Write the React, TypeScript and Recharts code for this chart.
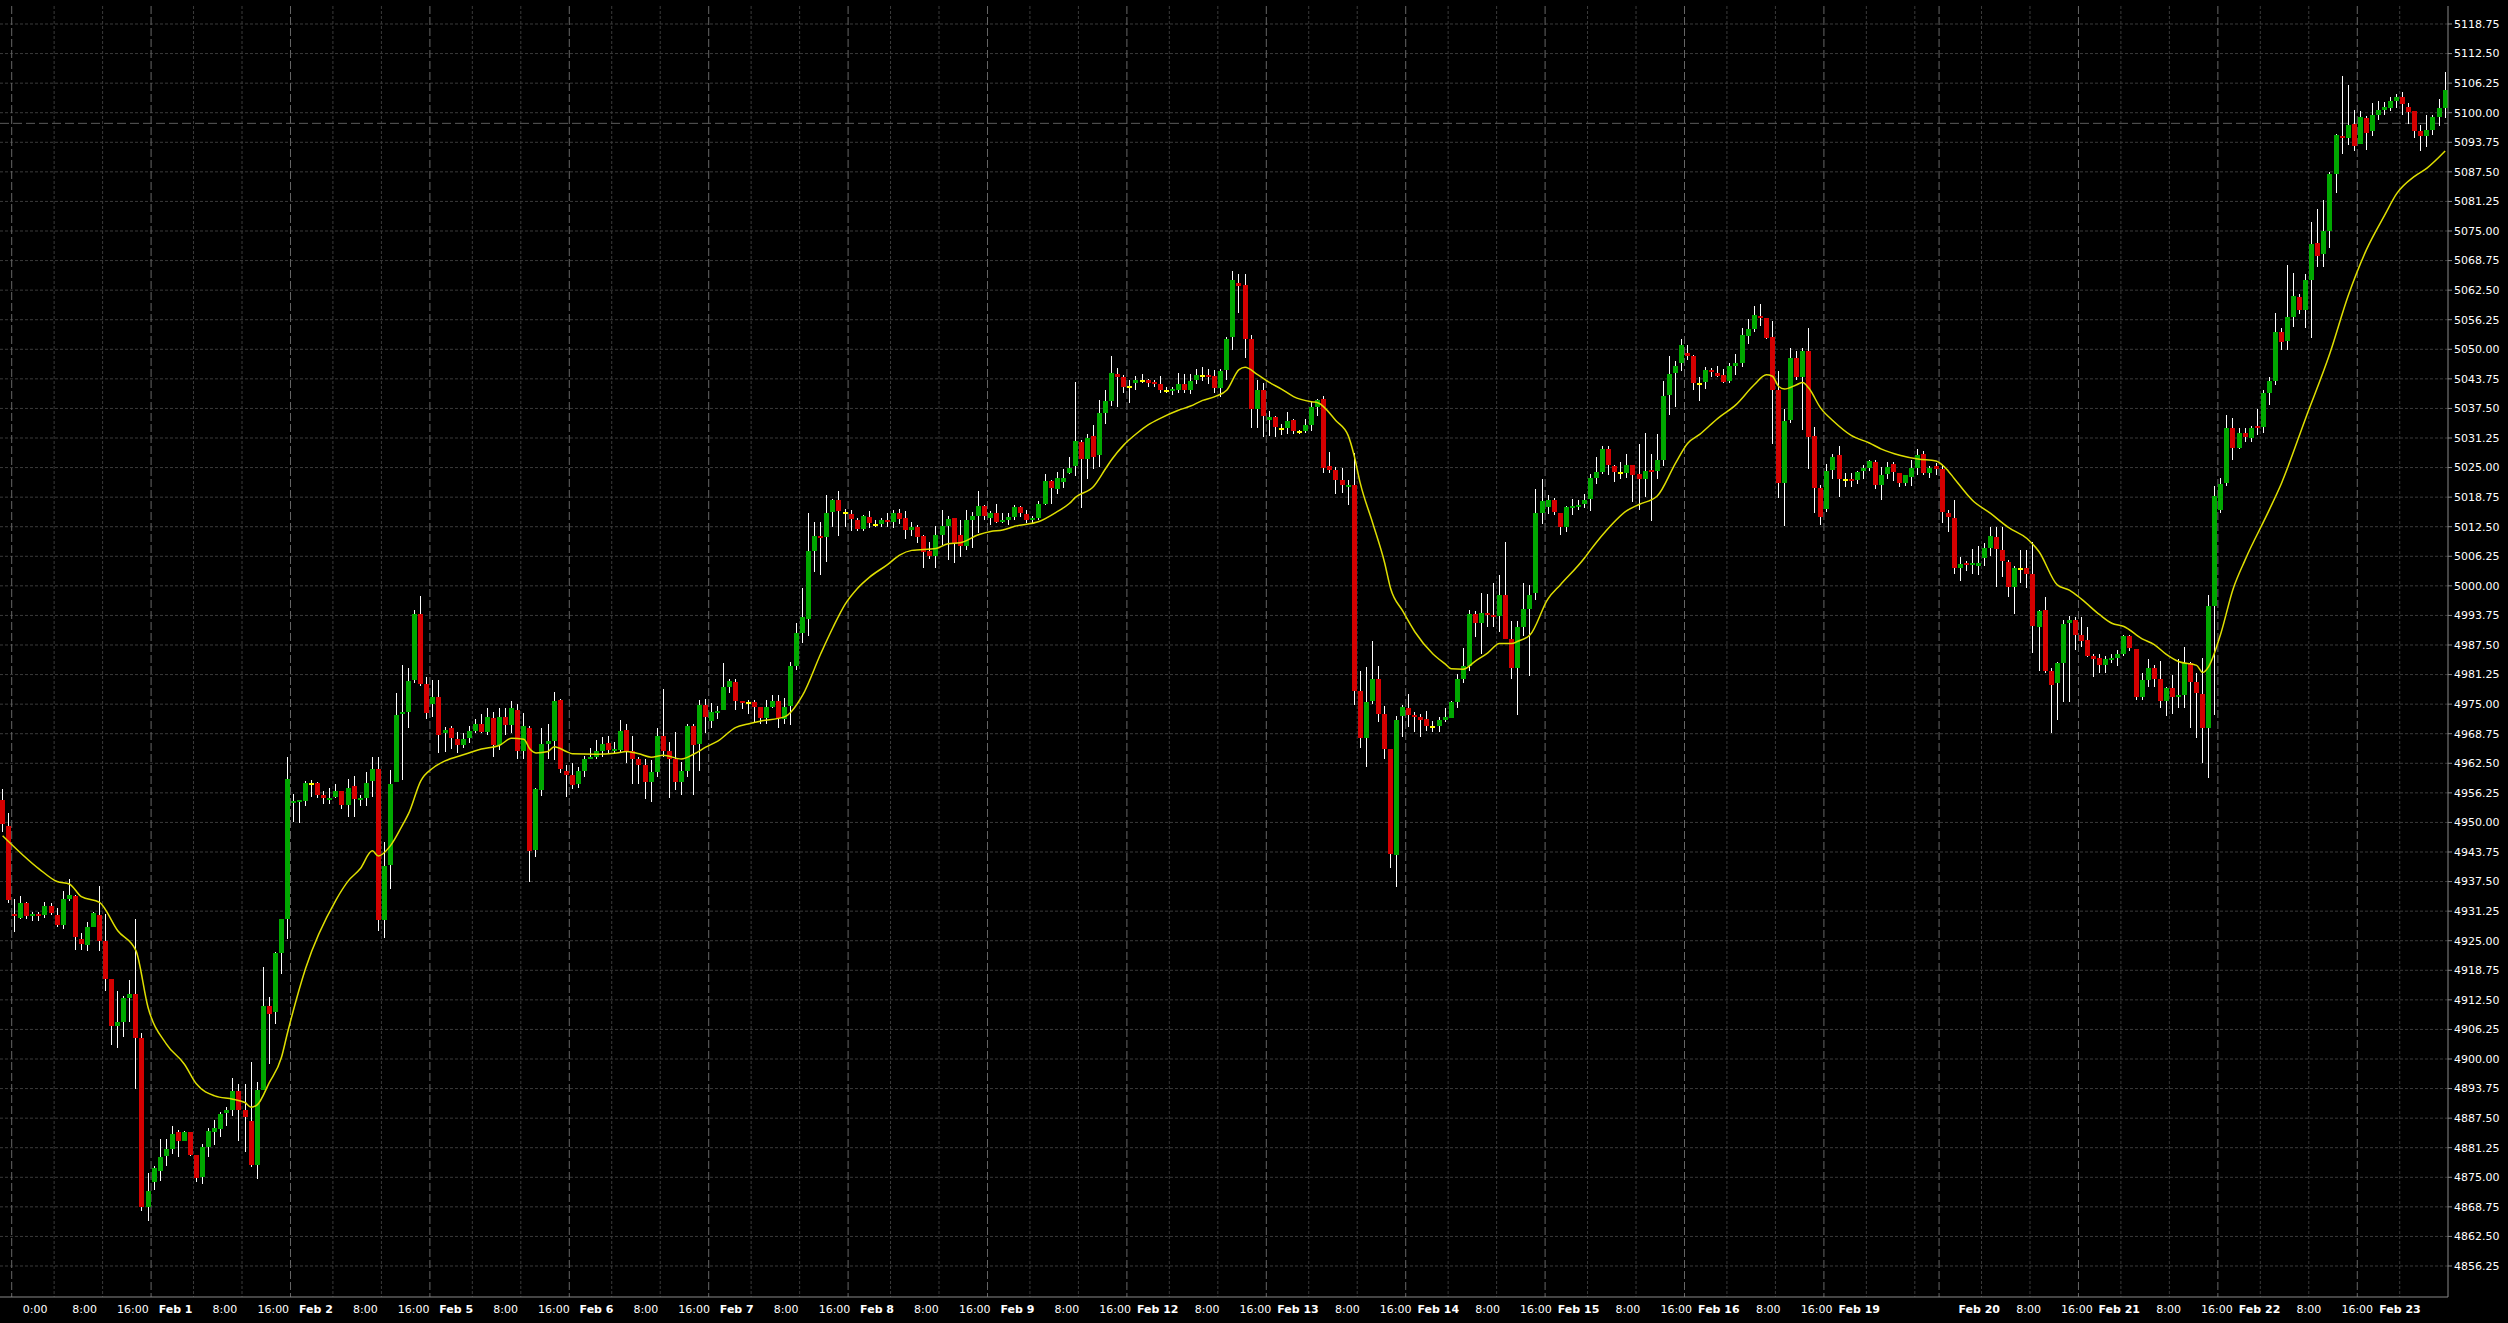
import React from 'react';
import { ComposedChart, Bar, Line, XAxis, YAxis, CartesianGrid } from 'recharts';

// ---- OHLC series (hourly candles, index 0..403) ----
const opens = [
4954.8,4949.3,4930.7,4929.7,4933.0,4930.2,4930.6,4930.4,4932.4,4930.5,
4928.3,4933.9,4934.5,4925.4,4924.0,4927.8,4930.5,4925.0,4917.0,4907.0,
4907.9,4912.9,4913.7,4904.4,4868.8,4874.1,4876.4,4879.6,4880.9,4884.5,
4882.7,4884.5,4879.8,4875.0,4881.3,4884.5,4885.3,4888.5,4889.2,4893.3,
4889.3,4887.0,4877.5,4893.5,4911.1,4909.9,4922.5,4929.5,4954.1,4954.3,
4954.6,4958.1,4958.3,4955.9,4954.9,4955.3,4956.7,4953.6,4957.6,4954.9,
4955.2,4958.7,4961.3,4929.4,4941.0,4958.6,4972.9,4973.4,4980.1,4994.0,
4979.3,4975.0,4976.6,4968.8,4970.0,4967.6,4966.3,4967.8,4969.3,4970.8,
4969.2,4972.0,4966.4,4972.3,4970.6,4973.8,4965.2,4970.0,4944.1,4956.8,
4966.5,4967.2,4975.9,4960.9,4960.0,4958.2,4960.9,4963.4,4963.9,4965.1,
4966.7,4965.1,4965.3,4969.5,4965.0,4963.5,4962.1,4958.6,4960.6,4968.3,
4965.0,4963.3,4958.6,4960.9,4970.4,4966.5,4974.9,4971.4,4973.2,4973.8,
4978.6,4979.6,4975.6,4975.3,4975.5,4974.4,4972.1,4974.4,4975.7,4971.8,
4974.7,4983.1,4990.1,4993.1,5007.4,5010.6,5010.4,5015.7,5018.1,5015.5,
5015.2,5013.9,5012.1,5014.5,5012.9,5013.1,5013.9,5013.6,5015.5,5014.4,
5011.9,5012.5,5010.5,5007.4,5006.4,5010.7,5012.6,5014.4,5010.7,5008.4,
5013.9,5014.8,5016.9,5014.4,5015.5,5013.4,5013.9,5014.6,5016.6,5015.2,
5014.0,5014.4,5017.4,5022.1,5020.4,5022.0,5023.9,5025.3,5030.4,5026.8,
5031.6,5027.6,5036.6,5039.0,5044.8,5044.1,5042.1,5042.8,5043.4,5043.6,
5043.0,5042.6,5041.2,5041.2,5041.4,5042.7,5041.4,5043.5,5044.4,5044.6,
5044.4,5041.9,5045.6,5052.5,5064.1,5063.6,5052.2,5037.4,5041.4,5035.0,
5035.6,5033.1,5033.4,5035.0,5032.5,5032.7,5034.0,5037.9,5039.4,5025.3,
5024.5,5022.4,5021.0,5021.3,4977.8,4967.9,4975.6,4980.4,4973.0,4965.6,
4943.1,4972.5,4974.1,4972.7,4972.3,4971.8,4970.2,4970.3,4971.6,4972.1,
4975.5,4980.3,4983.0,4994.0,4992.2,4994.2,4993.9,4993.7,4998.1,4988.7,
4982.7,4991.3,4995.1,4998.4,5015.4,5016.7,5018.1,5015.4,5012.4,5016.5,
5016.8,5017.2,5018.3,5022.9,5024.1,5029.0,5025.3,5023.9,5023.9,5025.5,
5023.6,5022.6,5024.5,5024.3,5026.6,5040.3,5044.9,5047.0,5049.3,5048.6,
5042.6,5043.1,5045.6,5044.9,5044.5,5043.3,5046.5,5047.0,5052.9,5054.2,
5057.1,5056.7,5052.5,5041.4,5021.8,5035.0,5048.1,5044.2,5049.6,5031.6,
5020.7,5016.2,5024.4,5027.6,5022.4,5022.5,5022.4,5024.2,5024.9,5026.1,
5021.3,5023.6,5025.7,5023.8,5021.8,5023.0,5024.9,5027.8,5023.8,5025.3,
5024.6,5015.5,5014.4,5003.7,5004.9,5004.5,5004.3,5005.8,5008.1,5010.3,
5007.6,5005.1,4999.8,5003.6,5003.7,5002.5,4991.4,4994.9,4982.0,4979.4,
4983.8,4992.2,4992.8,4989.6,4988.5,4985.2,4984.7,4983.3,4984.5,4984.7,
4985.7,4989.4,4986.6,4976.6,4980.1,4982.6,4980.4,4975.6,4978.5,4976.6,
4976.9,4983.8,4979.7,4977.1,4970.0,4995.7,5016.0,5021.8,5033.4,5029.1,
5032.4,5031.2,5033.7,5033.5,5040.8,5043.3,5053.6,5051.8,5056.9,5061.1,
5058.3,5064.6,5072.5,5070.1,5075.0,5087.0,5095.1,5094.7,5097.6,5093.4,
5098.8,5096.2,5099.6,5100.6,5101.1,5102.5,5103.4,5101.3,5100.4,5096.2,
5095.1,5096.3,5099.0,5101.1,
];

const highs = [
4957.1,4952.0,4933.8,4934.5,4933.2,4931.1,4931.1,4933.1,4932.9,4932.0,
4935.6,4938.0,4934.7,4926.6,4929.0,4931.0,4936.6,4930.6,4917.0,4914.3,
4913.4,4916.8,4929.5,4905.5,4876.0,4877.4,4883.1,4883.1,4885.9,4885.0,
4884.8,4884.5,4879.8,4882.0,4885.5,4887.1,4888.7,4889.8,4895.9,4894.7,
4894.7,4899.3,4895.1,4919.5,4913.1,4922.7,4929.5,4963.9,4956.0,4954.6,
4958.8,4959.0,4958.5,4956.7,4957.2,4958.1,4956.7,4959.2,4959.9,4955.7,
4960.6,4963.9,4963.9,4945.8,4961.0,4977.3,4983.3,4982.7,4994.9,4997.9,
4980.8,4980.1,4980.1,4970.2,4970.4,4969.2,4968.8,4970.4,4971.8,4972.9,
4974.1,4973.4,4974.2,4974.2,4975.7,4975.0,4973.2,4970.4,4957.3,4970.0,
4970.9,4977.5,4976.0,4962.1,4962.6,4961.8,4964.0,4965.8,4967.4,4968.1,
4968.2,4967.0,4971.6,4970.9,4968.2,4963.9,4963.3,4963.2,4970.0,4978.3,
4967.0,4969.2,4962.8,4970.7,4970.7,4975.9,4976.0,4975.2,4974.7,4983.6,
4980.4,4980.3,4975.6,4975.9,4975.9,4974.4,4975.9,4976.9,4976.9,4976.4,
4984.0,4992.1,4999.5,5015.5,5013.4,5013.6,5019.1,5018.3,5020.0,5016.2,
5016.0,5014.3,5015.0,5015.8,5013.9,5014.3,5015.3,5016.0,5016.2,5015.8,
5013.6,5012.9,5010.7,5009.2,5012.6,5016.0,5014.8,5014.4,5013.9,5016.0,
5015.7,5020.0,5017.1,5015.8,5017.3,5015.3,5015.5,5017.1,5016.9,5016.0,
5014.8,5018.0,5023.6,5022.4,5024.1,5024.8,5027.3,5043.1,5030.8,5032.1,
5034.0,5039.3,5041.4,5048.6,5046.0,5044.6,5043.5,5044.3,5044.8,5043.8,
5043.5,5044.3,5042.0,5042.1,5044.9,5044.8,5044.7,5045.8,5046.3,5045.8,
5045.6,5045.8,5052.5,5066.5,5066.0,5065.9,5053.0,5043.6,5042.8,5037.0,
5036.0,5034.3,5036.7,5035.3,5032.9,5035.3,5038.9,5039.4,5040.1,5028.2,
5025.2,5025.0,5022.4,5028.0,4982.1,4982.9,4988.3,4983.0,4974.6,4965.6,
4972.4,4974.9,4977.1,4973.4,4972.9,4973.5,4971.4,4972.2,4974.2,4975.7,
4981.4,4986.8,4994.9,4994.7,4998.4,4998.3,5000.7,5002.3,5009.2,4992.6,
4992.6,5000.7,5000.2,5020.4,5022.6,5019.1,5018.5,5015.4,5016.8,5018.3,
5018.1,5019.5,5023.6,5027.3,5029.6,5029.6,5025.5,5026.2,5027.8,5025.5,
5030.0,5032.3,5027.8,5032.1,5043.3,5048.6,5047.5,5052.1,5050.9,5048.8,
5044.2,5046.3,5046.0,5046.5,5045.9,5047.0,5049.0,5054.4,5056.3,5059.1,
5059.6,5056.7,5056.0,5045.5,5037.3,5050.2,5049.7,5050.2,5054.4,5033.6,
5021.3,5025.7,5027.8,5029.5,5023.8,5023.9,5024.3,5025.6,5026.5,5026.5,
5025.2,5026.2,5026.2,5023.9,5023.5,5026.5,5028.9,5028.5,5025.4,5026.0,
5025.5,5016.0,5018.1,5006.1,5005.3,5007.7,5008.5,5009.1,5012.4,5012.4,
5012.4,5005.5,5004.1,5007.6,5007.6,5009.3,4994.9,4997.7,4982.6,4984.0,
4992.8,4993.6,4993.5,4993.5,4991.2,4985.7,4985.7,4985.2,4985.7,4986.4,
4989.6,4989.6,4986.6,4981.6,4984.5,4983.3,4984.2,4978.7,4981.1,4984.5,
4987.1,4984.0,4981.6,4984.7,4998.1,5021.0,5022.7,5036.1,5035.4,5033.3,
5033.3,5033.8,5037.3,5041.4,5044.2,5057.6,5054.4,5067.8,5066.2,5061.7,
5066.0,5077.0,5079.6,5081.5,5087.5,5095.6,5107.8,5105.8,5100.6,5100.4,
5099.3,5102.0,5102.5,5102.2,5103.4,5103.9,5104.4,5102.0,5100.4,5097.4,
5099.5,5099.5,5102.8,5108.7,
];

const lows = [
4947.9,4932.9,4926.8,4929.5,4929.6,4929.1,4929.2,4929.9,4930.4,4927.8,
4927.5,4933.3,4923.1,4923.1,4922.8,4927.8,4922.8,4914.3,4902.9,4902.3,
4904.7,4907.9,4893.6,4867.9,4865.8,4872.4,4874.3,4877.4,4879.9,4879.3,
4882.7,4879.4,4874.1,4873.6,4879.3,4881.8,4883.5,4885.9,4888.0,4882.6,
4880.4,4877.2,4874.6,4893.5,4898.9,4907.5,4918.0,4925.4,4950.0,4949.8,
4953.5,4955.3,4955.2,4953.9,4953.9,4955.2,4952.8,4951.1,4951.2,4953.5,
4953.5,4955.3,4927.1,4925.5,4936.0,4958.5,4958.9,4969.9,4979.5,4978.8,
4971.8,4972.3,4964.7,4964.9,4965.6,4964.6,4965.8,4966.8,4968.8,4968.8,
4968.5,4963.8,4965.4,4968.5,4969.0,4963.3,4963.3,4937.4,4942.7,4955.6,
4963.3,4963.2,4960.4,4955.4,4957.0,4957.2,4959.7,4963.4,4963.5,4963.9,
4964.5,4964.7,4964.9,4962.5,4958.1,4958.1,4954.9,4954.4,4959.7,4963.9,
4955.1,4956.8,4955.8,4959.5,4955.8,4960.9,4968.8,4969.9,4971.8,4973.8,
4977.4,4973.8,4974.0,4973.0,4971.3,4970.9,4970.9,4974.1,4969.9,4970.8,
4970.6,4982.2,4988.0,4989.4,5003.0,5002.3,5005.1,5012.5,5010.6,5012.5,
5011.5,5011.5,5011.5,5012.3,5012.5,5012.5,5012.5,5012.3,5013.0,5010.0,
5010.5,5009.0,5003.8,5005.6,5003.8,5008.6,5005.5,5004.9,5006.2,5007.6,
5007.9,5011.1,5013.9,5012.9,5013.2,5013.2,5012.9,5013.9,5014.6,5013.2,
5013.3,5014.0,5017.1,5017.2,5019.5,5020.6,5023.6,5023.2,5016.5,5022.6,
5024.7,5025.2,5034.3,5038.0,5037.9,5040.8,5038.7,5041.5,5042.9,5042.1,
5042.1,5040.7,5040.7,5040.3,5040.8,5040.8,5040.5,5042.6,5043.2,5042.6,
5040.7,5040.0,5043.6,5049.8,5057.7,5048.1,5033.4,5033.4,5031.5,5031.6,
5031.5,5031.9,5032.2,5032.0,5032.0,5032.4,5032.7,5036.0,5023.9,5023.9,
5019.4,5019.7,5017.0,4974.8,4965.8,4961.8,4975.0,4971.3,4963.3,4940.3,
4936.4,4968.1,4970.2,4969.2,4968.1,4969.3,4969.2,4969.2,4971.3,4972.1,
4974.2,4979.4,4981.9,4989.1,4985.7,4991.2,4991.4,4990.3,4988.7,4980.4,
4972.8,4989.4,4981.0,4997.0,5013.0,5015.2,5015.0,5010.8,5011.4,5015.0,
5016.0,5016.4,5015.9,5021.6,5023.6,5023.4,5022.0,5022.5,5022.8,5017.8,
5016.0,5018.8,5013.8,5022.5,5025.4,5036.1,5037.9,5045.4,5047.7,5041.4,
5039.1,5041.7,5044.1,5044.2,5042.9,5042.9,5044.5,5046.2,5051.1,5053.6,
5054.9,5052.1,5029.9,5018.5,5012.7,5034.5,5043.5,5032.9,5024.8,5015.3,
5012.8,5015.6,5022.5,5018.8,5020.8,5020.9,5021.5,5022.6,5024.3,5020.5,
5018.1,5022.5,5022.1,5020.9,5021.2,5021.2,5023.4,5023.5,5022.8,5023.4,
5013.2,5011.3,5002.6,5001.1,5003.2,5002.5,5002.3,5004.1,5006.3,4999.7,
5001.9,4997.6,4994.0,5000.5,4999.5,4985.9,4981.9,4981.5,4969.0,4971.6,
4975.5,4975.5,4986.4,4987.0,4985.0,4980.8,4981.5,4981.6,4983.6,4983.0,
4985.2,4986.3,4975.9,4975.9,4978.7,4978.7,4974.2,4972.5,4973.0,4974.2,
4974.2,4969.9,4967.8,4962.6,4959.3,4972.8,5015.3,5021.0,5026.7,5028.9,
5030.5,5030.5,5031.9,5032.4,5038.2,5042.5,5049.8,5049.8,5054.8,5057.4,
5054.4,5052.3,5067.4,5067.4,5071.5,5083.1,5091.3,5093.2,5092.0,5093.4,
5092.1,5095.1,5098.4,5099.5,5100.4,5101.1,5099.6,5097.7,5094.7,5092.0,
5092.7,5095.3,5097.2,5098.8,
];

const closes = [
4949.7,4933.7,4930.2,4933.0,4930.2,4930.6,4930.2,4932.4,4930.8,4928.3,
4933.9,4934.7,4925.7,4924.2,4927.8,4930.8,4925.0,4917.0,4907.0,4907.9,
4912.8,4913.7,4904.4,4868.8,4872.2,4876.9,4879.2,4880.9,4884.1,4882.7,
4884.5,4879.8,4874.8,4881.3,4884.8,4885.5,4888.4,4889.2,4893.3,4889.3,
4887.7,4877.7,4893.5,4911.1,4909.6,4922.3,4929.5,4959.2,4954.4,4954.6,
4958.3,4958.1,4955.8,4955.2,4955.2,4956.7,4953.6,4957.2,4954.9,4955.2,
4958.4,4961.2,4929.4,4940.7,4958.2,4972.7,4973.3,4979.9,4994.0,4979.3,
4973.2,4976.6,4968.5,4969.5,4967.8,4966.4,4967.6,4969.3,4970.8,4969.2,
4972.3,4966.4,4972.3,4970.6,4974.2,4965.2,4970.4,4944.0,4957.1,4966.5,
4967.2,4975.7,4961.2,4960.0,4957.9,4960.9,4963.4,4963.9,4965.1,4966.6,
4965.3,4965.4,4969.3,4965.2,4963.4,4962.1,4958.6,4960.6,4968.3,4965.0,
4963.4,4958.6,4960.9,4970.4,4966.3,4974.8,4972.3,4973.4,4973.5,4978.6,
4979.9,4975.6,4975.3,4975.3,4974.4,4972.1,4974.4,4975.7,4972.0,4974.3,
4983.1,4990.1,4993.5,5007.4,5010.6,5010.2,5015.5,5018.1,5015.8,5015.5,
5014.1,5012.1,5014.8,5013.2,5012.9,5013.9,5013.6,5015.5,5014.1,5011.9,
5012.5,5010.4,5007.2,5006.4,5010.7,5012.6,5014.1,5008.8,5008.4,5013.9,
5014.8,5016.9,5014.8,5015.5,5013.4,5013.9,5014.5,5016.6,5015.3,5014.0,
5014.4,5017.3,5022.1,5020.7,5022.7,5022.7,5025.0,5030.6,5026.8,5031.3,
5027.3,5036.6,5039.0,5044.9,5044.2,5042.1,5042.1,5043.6,5043.4,5042.9,
5042.7,5041.4,5041.2,5041.6,5042.7,5041.4,5043.3,5044.6,5044.4,5044.1,
5041.8,5045.4,5052.2,5064.6,5063.4,5052.2,5037.4,5041.4,5036.0,5035.6,
5033.5,5033.1,5034.8,5032.7,5032.5,5034.0,5037.9,5039.3,5025.0,5024.5,
5022.4,5021.3,5021.3,4977.8,4967.9,4975.4,4980.4,4973.0,4965.6,4943.3,
4971.6,4974.3,4972.7,4972.2,4971.6,4970.3,4970.2,4971.6,4972.3,4975.5,
4980.3,4983.1,4994.0,4992.1,4994.3,4993.8,4993.5,4998.1,4988.7,4982.7,
4991.2,4995.1,4998.1,5015.3,5017.9,5018.1,5015.6,5012.4,5016.6,5016.9,
5017.1,5018.1,5022.9,5024.1,5029.0,5025.5,5024.1,5023.9,5025.5,5023.4,
5022.6,5024.3,5024.1,5026.6,5040.1,5044.8,5046.5,5050.9,5048.6,5042.8,
5042.6,5045.6,5045.2,5044.4,5043.1,5046.5,5047.0,5053.0,5054.3,5057.2,
5056.7,5052.4,5041.5,5021.8,5034.9,5048.1,5044.2,5049.6,5031.4,5020.7,
5014.6,5024.2,5027.3,5022.5,5022.4,5022.2,5024.0,5024.9,5026.3,5021.3,
5023.4,5025.2,5024.1,5021.8,5023.4,5024.9,5027.6,5023.8,5025.0,5024.6,
5015.7,5014.6,5003.7,5004.6,5004.5,5004.9,5004.9,5007.9,5010.5,5007.7,
5005.3,4999.8,5003.7,5003.6,5002.6,4991.6,4994.7,4981.9,4979.0,4983.6,
4991.9,4992.8,4989.6,4988.4,4985.2,4984.5,4983.3,4984.5,4984.7,4985.6,
4989.4,4986.8,4976.6,4980.1,4982.6,4980.4,4975.6,4978.5,4976.6,4976.9,
4983.8,4979.7,4977.4,4970.0,4995.7,5019.0,5021.5,5033.4,5029.1,5032.4,
5031.5,5033.4,5033.3,5040.8,5043.2,5053.6,5051.6,5056.9,5061.2,5058.4,
5064.6,5072.2,5069.8,5074.9,5087.0,5095.3,5094.7,5097.4,5093.0,5099.0,
5095.8,5099.6,5100.6,5101.3,5102.5,5103.4,5101.8,5100.2,5096.2,5095.1,
5096.3,5099.0,5101.1,5104.9,
];

// ---- Moving average readings (candle index -> value) ----
const maIdx = [0,6,9,11,13,16,19,22,24,27,30,32,35,38,40,41,42,44,46,47,50,55,57,59,61,62,64,66,67,69,71,73,76,79,82,84,86,87,88,90,91,93,94,98,101,103,105,107,109,112,114,116,118,121,123,125,129,132,135,137,139,141,143,146,148,150,154,156,158,161,163,165,167,171,174,176,177,180,182,183,185,187,189,191,194,196,198,200,202,204,205,207,209,211,213,216,217,220,222,223,224,226,228,229,231,233,236,238,239,241,243,245,247,249,250,252,255,257,261,262,264,268,270,273,276,278,280,283,286,289,291,292,293,294,296,297,298,300,302,305,308,310,313,316,319,321,322,325,328,331,334,336,339,341,343,346,348,350,353,355,357,359,362,363,364,366,368,370,374,376,380,384,387,390,393,395,398,400,403];
const maVals = [4947.2,4940.2,4937.5,4937.0,4934.3,4933.1,4927.1,4922.9,4910.9,4903.2,4898.9,4894.7,4892.2,4891.5,4890.8,4889.8,4890.3,4895.0,4900.3,4905.5,4919.2,4933.6,4937.6,4940.2,4944.0,4942.9,4945.1,4949.5,4951.9,4958.8,4961.5,4963.0,4964.3,4965.5,4966.3,4967.8,4967.6,4965.5,4964.7,4965.0,4966.0,4965.0,4964.5,4964.4,4964.6,4965.0,4964.5,4963.8,4964.2,4963.4,4964.4,4965.9,4967.2,4970.1,4970.8,4971.4,4972.3,4976.9,4985.7,4991.2,4996.1,4999.4,5001.8,5004.5,5006.5,5007.5,5007.9,5008.9,5009.1,5010.8,5011.5,5011.8,5012.6,5013.6,5015.7,5017.4,5018.7,5021.0,5024.8,5026.7,5029.8,5032.1,5034.0,5035.4,5037.1,5038.0,5039.2,5040.0,5041.4,5045.7,5046.2,5044.7,5043.0,5041.6,5040.0,5038.9,5038.7,5034.9,5031.8,5027.5,5021.7,5013.5,5005.0,4999.5,4994.7,4990.3,4985.6,4983.5,4982.5,4982.4,4984.1,4985.8,4987.8,4987.8,4988.3,4989.6,4997.3,5000.2,5005.9,5007.6,5010.8,5015.9,5017.2,5019.0,5025.9,5030.1,5032.0,5035.4,5038.3,5042.5,5044.6,5044.3,5042.2,5041.6,5042.5,5043.0,5041.8,5037.5,5034.9,5031.8,5030.2,5028.9,5027.6,5026.8,5026.4,5024.3,5022.7,5018.1,5015.3,5012.3,5010.0,5007.2,5000.2,4999.1,4997.2,4993.9,4992.1,4991.4,4988.8,4987.6,4985.5,4984.0,4983.2,4981.7,4983.0,4990.0,4999.3,5005.5,5016.1,5021.7,5035.5,5049.2,5061.3,5071.0,5078.3,5082.9,5086.6,5088.3,5091.9];

// ---- Axis ticks ----
const yTicks = [4856.25,4862.5,4868.75,4875,4881.25,4887.5,4893.75,4900,4906.25,4912.5,4918.75,4925,4931.25,4937.5,4943.75,4950,4956.25,4962.5,4968.75,4975,4981.25,4987.5,4993.75,5000,5006.25,5012.5,5018.75,5025,5031.25,5037.5,5043.75,5050,5056.25,5062.5,5068.75,5075,5081.25,5087.5,5093.75,5100,5106.25,5112.5,5118.75];

const xTickLabels = ['0:00','8:00','16:00',
'Feb 1','8:00','16:00','Feb 2','8:00','16:00','Feb 5','8:00','16:00','Feb 6','8:00','16:00',
'Feb 7','8:00','16:00','Feb 8','8:00','16:00','Feb 9','8:00','16:00','Feb 12','8:00','16:00',
'Feb 13','8:00','16:00','Feb 14','8:00','16:00','Feb 15','8:00','16:00','Feb 16','8:00','16:00',
'Feb 19','Feb 20','8:00','16:00','Feb 21','8:00','16:00','Feb 22','8:00','16:00','Feb 23'];
const xTickPos = [5.38,13.53,21.51,
28.54,36.69,44.66,51.69,59.84,67.81,74.84,82.99,90.96,97.99,106.14,114.11,
121.13,129.29,137.26,144.28,152.43,160.40,167.43,175.58,183.55,190.58,198.73,206.70,
213.73,221.88,229.85,236.88,245.02,252.99,260.02,268.17,276.14,283.17,291.32,299.29,
306.32,326.12,334.27,342.24,349.23,357.38,365.35,372.38,380.53,388.50,395.55];

// session separators and intraday grid lines (candle index units)
const daySeparators = [1.5,24.5,47.5,70.5,93.5,116.5,139.5,162.5,185.5,208.5,231.5,254.5,277.5,300.5,319.5,342.5,365.5,388.5];
const hourGrid = [8.5,16.5,31.5,39.5,54.5,62.5,77.5,85.5,100.5,108.5,123.5,131.5,146.5,154.5,169.5,177.5,192.5,200.5,215.5,223.5,238.5,246.5,261.5,269.5,284.5,292.5,307.5,315.5,326.5,334.5,349.5,357.5,372.5,380.5,395.5];
const priceLine = [5097.75];

const maMap = new Map<number, number>(maIdx.map((k, j) => [k, maVals[j]]));
const data = opens.map((o, i) => ({
  i,
  open: o,
  high: highs[i],
  low: lows[i],
  close: closes[i],
  range: [lows[i], highs[i]],
  ma: maMap.has(i) ? maMap.get(i) : null,
}));

const GREEN = '#00a800';
const RED = '#d40000';
const DOJI = '#ffff00';

function Candle(props: any) {
  const { x, y, width, height, payload } = props;
  if (!payload || x == null || y == null || height == null) return null;
  const { open, close, high, low } = payload;
  const top = Math.min(y, y + height);
  const h = Math.abs(height);
  const span = high - low;
  const k = span > 0 ? h / span : 0;
  const yOf = (v: number) => top + (high - v) * k;
  const cx = x + width / 2;
  const wx = Math.floor(cx) + 0.5;
  const bx = Math.round(cx - 2.5);
  const hiB = Math.max(open, close);
  const loB = Math.min(open, close);
  const isDoji = open === close;
  let bTop = yOf(hiB);
  let bH = yOf(loB) - bTop;
  if (bH < 2) {
    const mid = (yOf(hiB) + yOf(loB)) / 2;
    bTop = mid - 1;
    bH = 2;
  }
  const fill = isDoji ? DOJI : close > open ? GREEN : RED;
  return (
    <g>
      <line x1={wx} x2={wx} y1={top} y2={top + h} stroke="#ffffff" strokeWidth={1} shapeRendering="crispEdges" />
      <rect x={bx} y={bTop} width={5} height={bH} fill={fill} shapeRendering="crispEdges" />
    </g>
  );
}

function XTick(props: any) {
  const { x, y, payload } = props;
  const v = payload ? payload.value : null;
  const idx = xTickPos.findIndex((p) => Math.abs(p - v) < 1e-6);
  const label = idx >= 0 ? xTickLabels[idx] : '';
  const bold = label.startsWith('Feb');
  return (
    <text
      x={x}
      y={y}
      dy={16}
      textAnchor="middle"
      fill="#ffffff"
      fontSize={11}
      fontFamily="'DejaVu Sans', sans-serif"
      fontWeight={bold ? 'bold' : 'normal'}
    >
      {label}
    </text>
  );
}

export default function App() {
  return (
    <div style={{ position: 'absolute', left: 0, top: 0, width: 2508, height: 1323, background: '#000000', overflow: 'hidden' }}>
      <ComposedChart
        width={2508}
        height={1323}
        data={data}
        margin={{ top: 6, right: 0, bottom: 0, left: 0 }}
      >
        <CartesianGrid
          stroke="#3a3a3a"
          strokeDasharray="3 2"
          horizontalValues={yTicks}
          verticalValues={hourGrid}
        />
        <CartesianGrid
          stroke="#666666"
          strokeDasharray="8 3"
          horizontal={false}
          verticalValues={daySeparators}
        />
        <CartesianGrid
          stroke="#5a5a5a"
          strokeDasharray="9 4"
          vertical={false}
          horizontalValues={priceLine}
        />
        <XAxis
          dataKey="i"
          type="number"
          domain={[-0.429, 403.47]}
          allowDataOverflow
          ticks={xTickPos}
          interval={0}
          tick={<XTick />}
          tickLine={false}
          tickSize={0}
          tickMargin={0}
          axisLine={{ stroke: '#888888' }}
          height={26}
        />
        <YAxis
          orientation="right"
          type="number"
          domain={[4849.698, 5122.554]}
          allowDataOverflow
          ticks={yTicks}
          interval={0}
          width={60}
          tickSize={4}
          tickLine={{ stroke: '#888888' }}
          axisLine={{ stroke: '#888888' }}
          tick={{ fill: '#ffffff', fontSize: 11, fontFamily: "'DejaVu Sans', sans-serif" }}
          tickFormatter={(v: number) => v.toFixed(2)}
        />
        <Bar dataKey="range" barSize={6} shape={<Candle />} isAnimationActive={false} />
        <Line
          dataKey="ma"
          type="monotone"
          stroke="#dede00"
          strokeWidth={1.5}
          dot={false}
          activeDot={false}
          connectNulls
          isAnimationActive={false}
        />
      </ComposedChart>
    </div>
  );
}
